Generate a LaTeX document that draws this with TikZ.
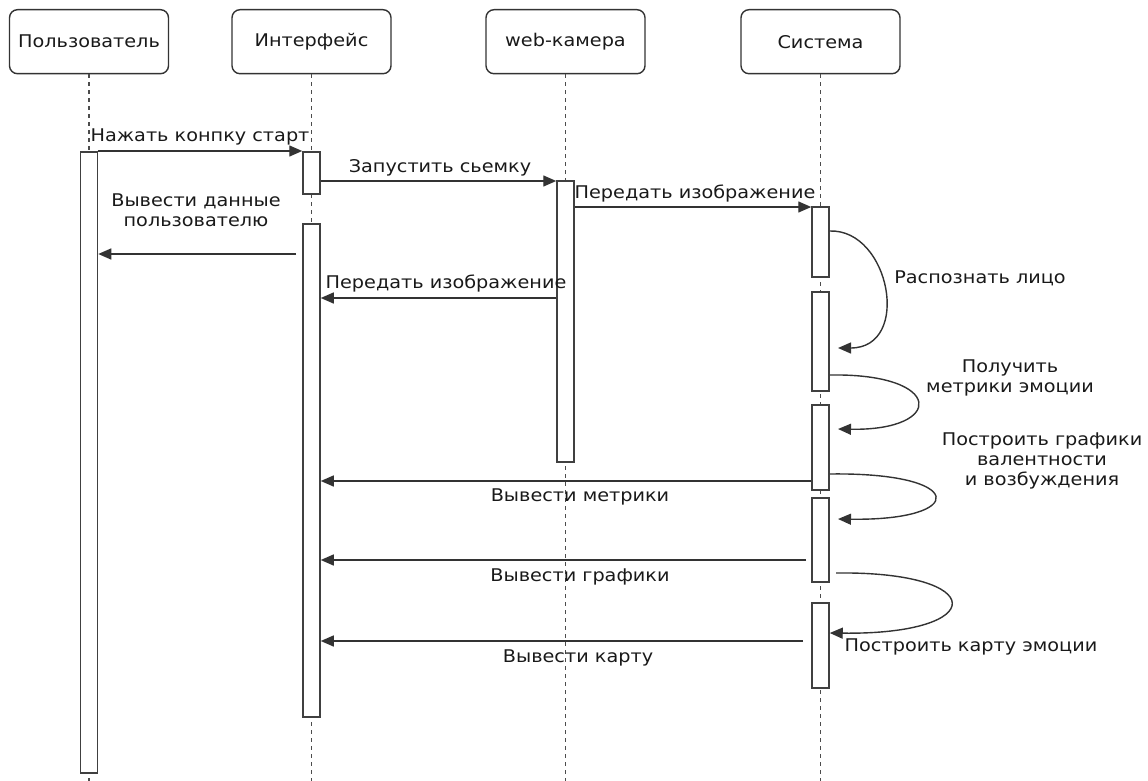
\documentclass[tikz,border=0pt]{standalone}
\usepackage{fontspec}
\setmainfont{DejaVu Sans}[FakeStretch=1.1]
\usetikzlibrary{arrows.meta}
\begin{document}
\begin{tikzpicture}[x=1pt,y=-1pt,
  every node/.style={font=\fontsize{17.5}{20}\selectfont, inner sep=0pt, text=black!90},
  head/.style={draw=black!80, rounded corners=8pt, line width=1.4pt, minimum width=159pt, minimum height=64pt, anchor=north},
  life/.style={draw=black!70, line width=1.6pt, dash pattern=on 4pt off 4pt},
  actbar/.style={draw=black!75, fill=white, line width=1.5pt, minimum width=17pt, anchor=north},
  msg/.style={draw=black!80, line width=1.4pt, -{Triangle[length=13pt,width=11pt]}},
  lbl/.style={align=center}
]
\useasboundingbox (0,0) rectangle (1148,781);
% headers
\node[head] (hU) at (89,9) {Пользователь};
\node[head] (hI) at (311.5,9) {Интерфейс};
\node[head] (hW) at (565.5,9) {web-камера};
\node[head] (hS) at (820.5,9) {Система};
% lifelines
\coordinate (eU) at (89,781);
\coordinate (eI) at (311.5,781);
\coordinate (eW) at (565.5,781);
\coordinate (eS) at (820.5,781);
\draw[life] (hU.south) -- (eU);
\draw[life] (hI.south) -- (eI);
\draw[life] (hW.south) -- (eW);
\draw[life] (hS.south) -- (eS);
% activation bars
\node[actbar, minimum height=621pt] (ub) at (89,151) {};
\node[actbar, minimum height=42pt] (ib1) at (311.5,151) {};
\node[actbar, minimum height=493pt] (ib2) at (311.5,223) {};
\node[actbar, minimum height=281pt] (wb) at (565.5,180) {};
\node[actbar, minimum height=70pt] (sb1) at (820.5,206) {};
\node[actbar, minimum height=99pt] (sb2) at (820.5,291) {};
\node[actbar, minimum height=85pt] (sb3) at (820.5,404) {};
\node[actbar, minimum height=84pt] (sb4) at (820.5,497) {};
\node[actbar, minimum height=85pt] (sb5) at (820.5,602) {};
% y levels
\coordinate (y1) at (0,151);
\coordinate (y2) at (0,181);
\coordinate (y3) at (0,207);
\coordinate (y4) at (0,254);
\coordinate (y5) at (0,298);
\coordinate (y8) at (0,481);
\coordinate (y10) at (0,560);
\coordinate (y12) at (0,641);
\coordinate (s4) at (296,254);
\coordinate (s10) at (806,560);
\coordinate (s12) at (803,641);
% messages
\draw[msg] (ub.east |- y1) -- (ib1.west |- y1);
\node[anchor=base] at (200,142) {Нажать конпку старт};
\draw[msg] (ib1.east |- y2) -- (wb.west |- y2);
\node[anchor=base] at (440,172) {Запустить сьемку};
\draw[msg] (wb.east |- y3) -- (sb1.west |- y3);
\node[anchor=base] at (695,198) {Передать изображение};
\draw[msg] (s4) -- (ub.east |- y4);
\node[lbl, anchor=base] at (196,226) {Вывести данные\\пользователю};
\draw[msg] (wb.west |- y5) -- (ib2.east |- y5);
\node[anchor=base] at (446,288) {Передать изображение};
% self loop 1
\coordinate (L1a) at (0,231);
\coordinate (L1b) at (838,348);
\draw[msg] (sb1.east |- L1a) .. controls (890,229) and (912,348) .. (L1b);
\node[anchor=base] at (980,283) {Распознать лицо};
% self loop 2
\coordinate (L2a) at (0,375);
\coordinate (L2b) at (838,429);
\draw[msg] (sb2.east |- L2a) .. controls (945,373) and (945,431) .. (L2b);
\node[lbl, anchor=base] at (1010,392) {Получить\\метрики эмоции};
% Вывести метрики
\draw[msg] (sb3.west |- y8) -- (ib2.east |- y8);
\node[anchor=base] at (580,501) {Вывести метрики};
% self loop 3
\coordinate (L3a) at (0,474);
\coordinate (L3b) at (838,519);
\draw[msg] (sb3.east |- L3a) .. controls (968,472) and (968,521) .. (L3b);
\node[lbl, anchor=base] at (1042,485) {Построить графики\\валентности\\и возбуждения};
% Вывести графики
\draw[msg] (s10) -- (ib2.east |- y10);
\node[anchor=base] at (580,581) {Вывести графики};
% self loop 4
\coordinate (L4a) at (836,573);
\coordinate (L4b) at (0,633);
\draw[msg] (L4a) .. controls (990,571) and (990,635) .. (sb5.east |- L4b);
\node[anchor=base] at (971,651) {Построить карту эмоции};
% Вывести карту
\draw[msg] (s12) -- (ib2.east |- y12);
\node[anchor=base] at (578,662) {Вывести карту};
\end{tikzpicture}
\end{document}
